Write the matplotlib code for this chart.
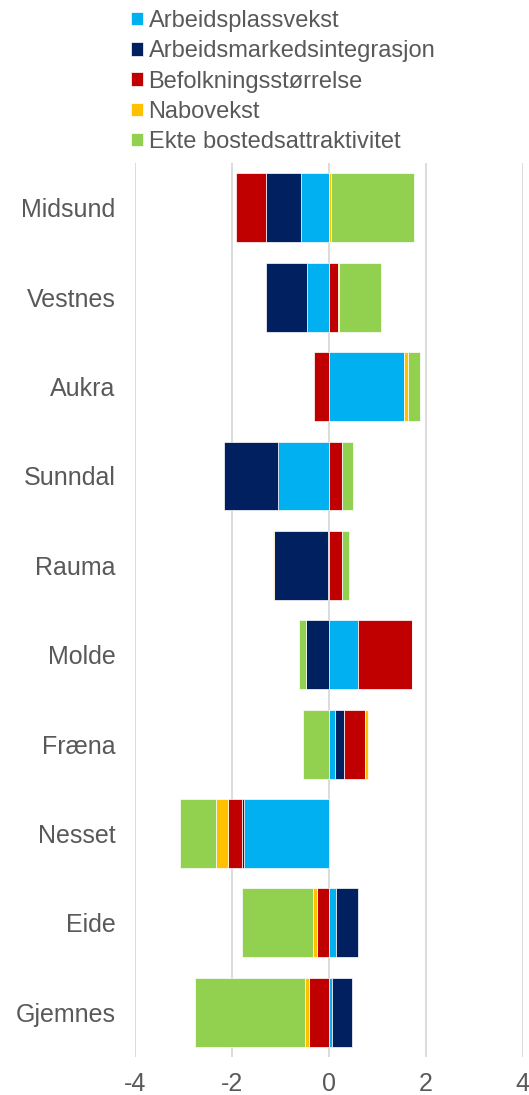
import numpy as np
import matplotlib
matplotlib.use("Agg")
import matplotlib.pyplot as plt

plt.rcParams['font.family'] = ['Liberation Sans', 'DejaVu Sans']
plt.rcParams['axes.unicode_minus'] = False

# Kommuner, ovenfra og ned
kommuner = ["Midsund", "Vestnes", "Aukra", "Sunndal", "Rauma",
            "Molde", "Fræna", "Nesset", "Eide", "Gjemnes"]

# Bidrag per komponent (samme rekkefølge som kommuner)
arbeidsplassvekst = [-0.58, -0.45, 1.56, -1.05, -0.02, 0.61, 0.13, -1.76, 0.15, 0.07]
arbeidsmarkedsintegrasjon = [-0.72, -0.85, 0.0, -1.12, -1.11, -0.48, 0.19, -0.04, 0.45, 0.40]
befolkningsstorrelse = [-0.62, 0.18, -0.30, 0.27, 0.27, 1.10, 0.42, -0.29, -0.24, -0.41]
nabovekst = [0.05, 0.035, 0.08, 0.0, -0.03, 0.0, 0.07, -0.23, -0.09, -0.08]
ekte_bosted = [1.70, 0.87, 0.25, 0.22, 0.145, -0.14, -0.54, -0.76, -1.47, -2.28]

serier = [
    ("Arbeidsplassvekst", arbeidsplassvekst, "#00B0F0"),
    ("Arbeidsmarkedsintegrasjon", arbeidsmarkedsintegrasjon, "#002060"),
    ("Befolkningsstørrelse", befolkningsstorrelse, "#C00000"),
    ("Nabovekst", nabovekst, "#FFC000"),
    ("Ekte bostedsattraktivitet", ekte_bosted, "#92D050"),
]

fig = plt.figure(figsize=(5.29, 10.95), dpi=100)
ax = fig.add_axes([0.2552, 0.0347, 0.733, 0.8164])

y = np.arange(len(kommuner))
pos_base = np.zeros(len(kommuner))
neg_base = np.zeros(len(kommuner))
handles = []
for navn, verdier, farge in serier:
    v = np.array(verdier, dtype=float)
    base = np.where(v >= 0, pos_base, neg_base)
    h = ax.barh(y, v, left=base, height=0.77, color=farge,
                edgecolor="white", linewidth=0.5, label=navn)
    handles.append(h)
    pos_base += np.clip(v, 0, None)
    neg_base += np.clip(v, None, 0)

ax.set_xlim(-4, 4)
ax.set_ylim(len(kommuner) - 0.5, -0.5)
ax.set_xticks([-4, -2, 0, 2, 4])
ax.set_yticks(y)
ax.set_yticklabels(kommuner)
ax.grid(axis="x", color="#d9d9d9", linewidth=1.3)
ax.set_axisbelow(True)
for s in ax.spines.values():
    s.set_visible(False)
ax.tick_params(axis="y", length=0, pad=14, labelsize=18, labelcolor="#595959")
ax.tick_params(axis="x", length=0, pad=11, labelsize=18, labelcolor="#595959")

fig.legend(handles=handles, loc="upper left", bbox_to_anchor=(0.2295, 0.9995),
           frameon=False, fontsize=17, handlelength=0.5, handleheight=0.5,
           handletextpad=0.25, labelspacing=0.35, borderaxespad=0,
           labelcolor="#595959")

fig.savefig("out.png", dpi=100)
